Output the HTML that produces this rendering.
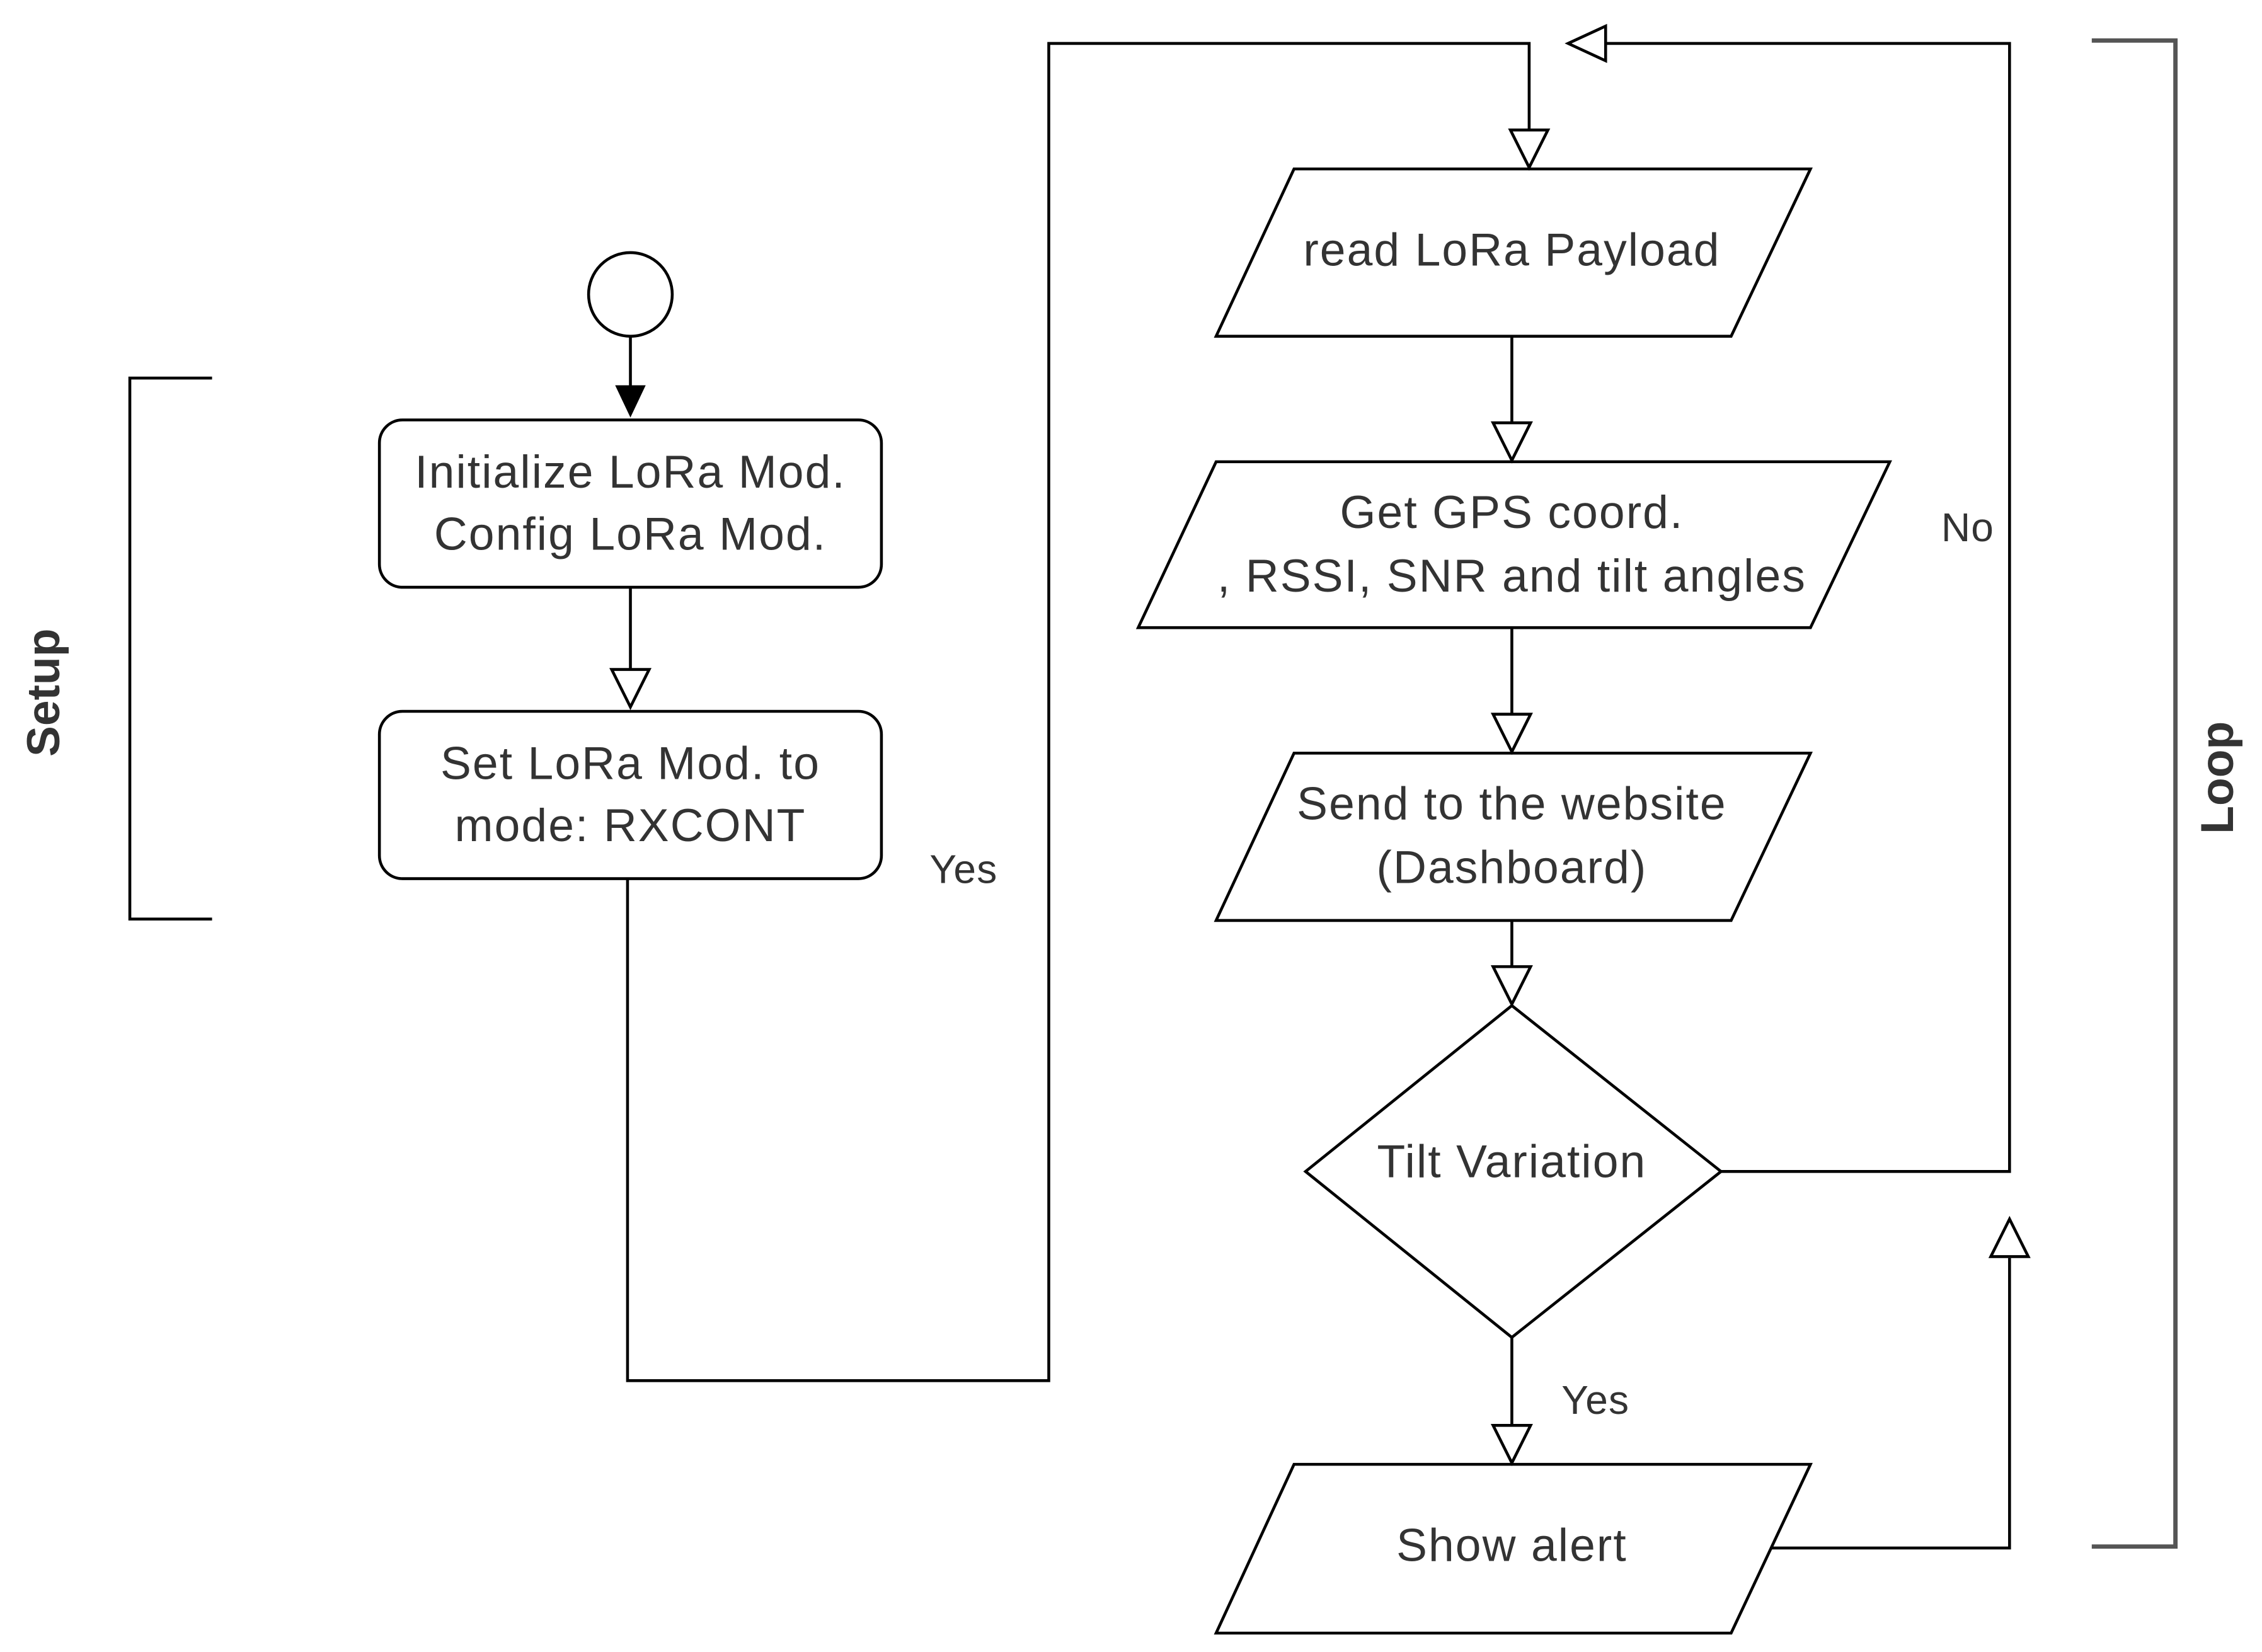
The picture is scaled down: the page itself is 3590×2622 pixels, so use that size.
<!DOCTYPE html>
<html><head><meta charset="utf-8"><style>
html,body{margin:0;padding:0;background:#fff;}
svg{display:block;}
text{font-family:"Liberation Sans",sans-serif;fill:#333;}
</style></head><body>
<svg width="3590" height="2622" viewBox="0 0 1568 1145" xmlns="http://www.w3.org/2000/svg">
<g fill="none" stroke="#000" stroke-width="2">
<circle cx="437" cy="204" r="29"/>
<line x1="437" y1="233" x2="437" y2="272"/>
<rect x="263" y="291" width="348" height="116" rx="16"/>
<line x1="437" y1="407" x2="437" y2="464"/>
<rect x="263" y="493" width="348" height="116" rx="16"/>
<polyline points="435,609 435,957 727,957 727,30 1060,30 1060,90"/>
<polygon points="897,117 1255,117 1200,233 843,233"/>
<line x1="1048" y1="233" x2="1048" y2="293"/>
<polygon points="843,320 1310,320 1255,435 789,435"/>
<line x1="1048" y1="435" x2="1048" y2="495"/>
<polygon points="897,522 1255,522 1200,638 843,638"/>
<line x1="1048" y1="638" x2="1048" y2="670"/>
<polygon points="1048,697 1193,812 1048,927 905,812"/>
<polyline points="1193,812 1393,812 1393,30 1113,30"/>
<line x1="1048" y1="927" x2="1048" y2="988"/>
<polygon points="897,1015 1255,1015 1200,1132 843,1132"/>
<polyline points="1228,1073 1393,1073 1393,872"/>
<polyline points="147,262 90,262 90,637 147,637"/>
</g>
<polyline points="1450,28 1508,28 1508,1072 1450,1072" fill="none" stroke="#555" stroke-width="3"/>
<polygon points="428,268 446,268 437,287" fill="#000" stroke="#000" stroke-width="2"/>
<g fill="#fff" stroke="#000" stroke-width="2">
<polygon points="424,464 450,464 437,490"/>
<polygon points="1047,90 1073,90 1060,116"/>
<polygon points="1035,293 1061,293 1048,319"/>
<polygon points="1035,495 1061,495 1048,521"/>
<polygon points="1035,670 1061,670 1048,696"/>
<polygon points="1035,988 1061,988 1048,1014"/>
<polygon points="1113,18 1113,42 1087,30"/>
<polygon points="1380,871 1406,871 1393,845"/>
</g>
<g font-size="32" text-anchor="middle" letter-spacing="0.9">
<text x="437" y="338">Initialize LoRa Mod.</text>
<text x="437" y="381">Config LoRa Mod.</text>
<text x="437" y="540">Set LoRa Mod. to</text>
<text x="437" y="583">mode: RXCONT</text>
<text x="1048" y="184">read LoRa Payload</text>
<text x="1048" y="366">Get GPS coord.</text>
<text x="1048" y="410">, RSSI, SNR and tilt angles</text>
<text x="1048" y="568">Send to the website</text>
<text x="1048" y="612">(Dashboard)</text>
<text x="1048" y="816">Tilt Variation</text>
<text x="1048" y="1082">Show alert</text>
</g>
<g font-size="28" text-anchor="middle" letter-spacing="0.5">
<text x="668" y="612">Yes</text>
<text x="1106" y="980">Yes</text>
<text x="1364" y="375">No</text>
</g>
<text x="0" y="0" font-size="32" font-weight="bold" text-anchor="middle" transform="translate(41,480) rotate(-90)" fill="#111">Setup</text>
<text x="0" y="0" font-size="32" font-weight="bold" text-anchor="middle" transform="translate(1548,539) rotate(-90)" fill="#111">Loop</text>
</svg>
</body></html>
